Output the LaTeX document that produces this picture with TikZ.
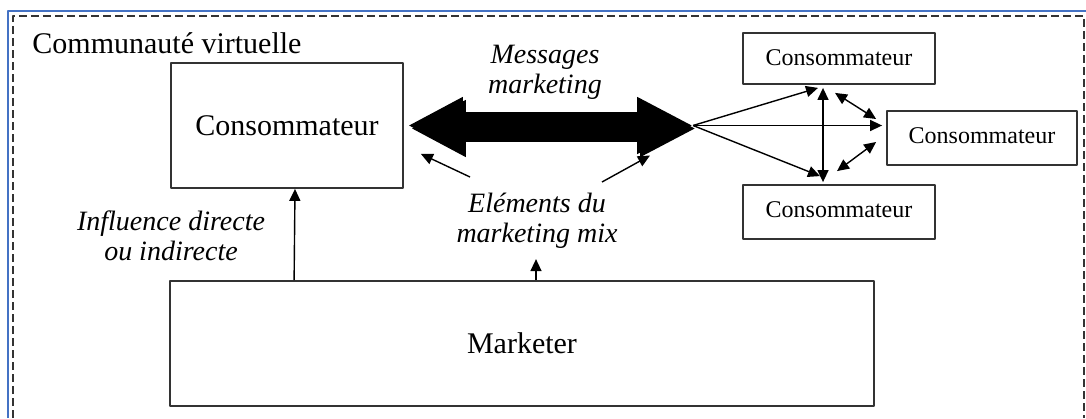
\documentclass[tikz,border=0pt]{standalone}
\usepackage{fontspec}
\setmainfont{Liberation Serif}
\usetikzlibrary{calc,arrows.meta}
\definecolor{frameblue}{HTML}{4472C4}
\definecolor{edge}{HTML}{333333}
\definecolor{shade}{HTML}{A8A8A8}
\tikzset{
  box/.style={draw=edge, line width=0.9pt, inner sep=0pt, font=\fontsize{15}{18}\selectfont},
  smallbox/.style={box, font=\fontsize{12}{14}\selectfont},
  lab/.style={font=\fontsize{14}{15}\selectfont\itshape, align=center},
  arr/.style={draw=black, line width=0.7pt, -{Triangle[length=6pt,width=5.5pt]}},
  darr/.style={arr, {Triangle[length=6pt,width=5.5pt]}-{Triangle[length=6pt,width=5.5pt]}},
  bigarr/.style={line width=13.5pt, {Triangle[length=27.5pt,width=26.5pt]}-{Triangle[length=28pt,width=26.5pt]}},
  frame/.style={draw=black!80, line width=0.8pt, dash pattern=on 4pt off 2pt}
}

\begin{document}
\begin{tikzpicture}[x=0.5pt, y=-0.5pt, line join=round]
  \useasboundingbox (0,0) rectangle (1086,418);
  % outer frames
  \draw[frameblue, line width=1.2pt] (8,418) -- (8,11) -- (1086,11);
  \draw[frame] (13,418) -- (13,16) -- (1084,16) -- (1084,418);
  \node[anchor=west, inner sep=0pt, font=\fontsize{15}{18}\selectfont] (comm) at (32,43) {Communauté virtuelle};

  % boxes
  \node[box, minimum width=116pt, minimum height=62.5pt] (cbig) at (287,125.5) {Consommateur};
  \node[box, minimum width=352pt, minimum height=62.5pt] (market) at (522,343.5) {Marketer};
  \node[smallbox, minimum width=96pt, minimum height=25.5pt] (ctop) at (839,58.5) {\raisebox{1pt}{Consommateur}};
  \node[smallbox, minimum width=95pt, minimum height=27pt] (cmid) at (982,138) {\raisebox{2.5pt}{Consommateur}};
  \node[smallbox, minimum width=96pt, minimum height=27pt] (cbot) at (839,212) {\raisebox{2pt}{Consommateur}};

  % labels
  \node[lab] (msg) at (545,72) {Messages\\marketing};
  \node[lab] (mix) at (537,221) {Eléments du\\marketing mix};
  \node[lab] (infl) at (171,236) {Influence directe\\ou indirecte};

  % big two-way arrow
  \coordinate (hub) at (693,125.5);
  \draw[shade, bigarr, transform canvas={shift={(1.5pt,-1.5pt)}}] ([xshift=2pt]cbig.east) -- (hub);
  \draw[bigarr] ([xshift=2pt]cbig.east) -- (hub);

  % spreading to the community
  \draw[arr] (hub) -- ($(ctop.south)+(-21,3)$);
  \draw[arr, shorten >=2pt] (hub) -- (hub -| cmid.west);
  \draw[arr] (hub) -- ($(cbot.north)+(-19,-8)$);
  \draw[darr] ($(ctop.south)+(-16,3)$) -- ($(cbot.north)+(-16,-2)$);
  \draw[darr] ($(ctop.south)+(-4,8)$) -- ($(cmid.west)+(-10,-19)$);
  \draw[darr] ($(cbot.north)+(-2,-13)$) -- ($(cmid.west)+(-10,4)$);

  % marketer influence
  \coordinate (mixL) at (470,177);
  \coordinate (mixR) at (602,182);
  \draw[arr] (mixL) -- ($(cbig.south east)+(17,-35)$);
  \draw[arr] (mixR) -- ($(hub)+(-43,30)$);
  \draw[arr] ($(market.north west)+(125,0)$) -- ($(cbig.south)+(8,0)$);
  \draw[arr] ($(market.north)+(14,0)$) -- ++(0,-21);
\end{tikzpicture}
\end{document}
